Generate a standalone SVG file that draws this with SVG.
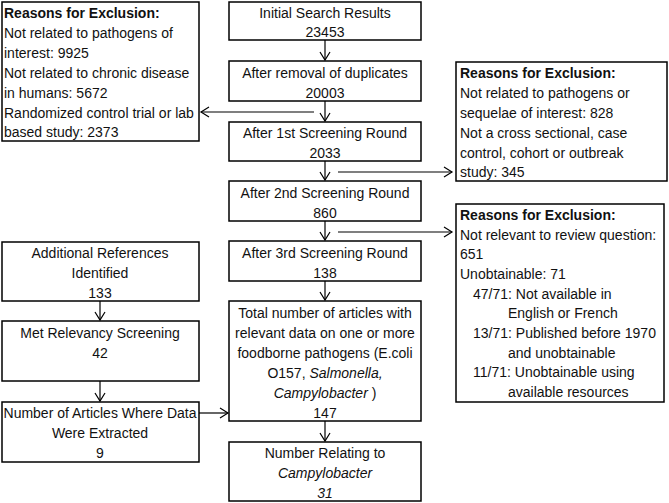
<svg xmlns="http://www.w3.org/2000/svg" width="669" height="503" viewBox="0 0 669 503">
<defs>
<marker id="ah" markerUnits="userSpaceOnUse" markerWidth="12" markerHeight="12" viewBox="-10 -6 12 12" refX="0" refY="0" orient="auto">
<path d="M-8,-5 L0,0 L-8,5" fill="none" stroke="#000" stroke-width="1.2"/>
</marker>
<style>
rect{fill:#fff;stroke:#000;stroke-width:1.5}
text{font-family:"Liberation Sans",Arial,sans-serif;font-size:14px;fill:#111}
.c{text-anchor:middle}
.b{font-weight:bold}
.i{font-style:italic}
#connectors line{stroke:#000;stroke-width:1.2;marker-end:url(#ah)}
</style>
</defs>
<rect x="0" y="0" width="669" height="503" style="fill:#fff;stroke:none"/>
<g id="excl1">
<rect x="2" y="2" width="197" height="139"/>
<text x="4" y="18" class="b">Reasons for Exclusion:</text>
<text x="4" y="38">Not related to pathogens of</text>
<text x="4" y="58">interest: 9925</text>
<text x="4" y="78">Not related to chronic disease</text>
<text x="4" y="98">in humans: 5672</text>
<text x="4" y="118">Randomized control trial or lab</text>
<text x="4" y="137">based study: 2373</text>
</g>
<g id="initial">
<rect x="229" y="2" width="192" height="38"/>
<text x="325" y="18" class="c">Initial Search Results</text>
<text x="325" y="37" class="c">23453</text>
</g>
<g id="dups">
<rect x="229" y="61" width="192" height="40"/>
<text x="325" y="78" class="c">After removal of duplicates</text>
<text x="325" y="98" class="c">20003</text>
</g>
<g id="round1">
<rect x="229" y="122" width="192" height="39"/>
<text x="325" y="138" class="c">After 1st Screening Round</text>
<text x="325" y="158" class="c">2033</text>
</g>
<g id="round2">
<rect x="229" y="181" width="192" height="40"/>
<text x="325" y="198" class="c">After 2nd Screening Round</text>
<text x="325" y="218" class="c">860</text>
</g>
<g id="round3">
<rect x="229" y="241" width="192" height="40"/>
<text x="325" y="258" class="c">After 3rd Screening Round</text>
<text x="325" y="278" class="c">138</text>
</g>
<g id="total">
<rect x="229" y="301" width="192" height="120"/>
<text x="325" y="318" class="c">Total number of articles with</text>
<text x="325" y="338" class="c">relevant data on one or more</text>
<text x="325" y="358" class="c">foodborne pathogens (E.coli</text>
<text x="325" y="378" class="c">O157, <tspan class="i">Salmonella,</tspan></text>
<text x="325" y="398" class="c"><tspan class="i">Campylobacter</tspan> )</text>
<text x="325" y="418" class="c">147</text>
</g>
<g id="campy">
<rect x="229" y="442" width="192" height="59"/>
<text x="325" y="458" class="c">Number Relating to</text>
<text x="325" y="478" class="c i">Campylobacter</text>
<text x="325" y="498" class="c i">31</text>
</g>
<g id="excl2">
<rect x="456" y="62" width="211" height="119"/>
<text x="460" y="78" class="b">Reasons for Exclusion:</text>
<text x="460" y="98">Not related to pathogens or</text>
<text x="460" y="118">sequelae of interest: 828</text>
<text x="460" y="138">Not a cross sectional, case</text>
<text x="460" y="158">control, cohort or outbreak</text>
<text x="460" y="177">study: 345</text>
</g>
<g id="excl3">
<rect x="456" y="204" width="208" height="198"/>
<text x="460" y="220" class="b">Reasons for Exclusion:</text>
<text x="460" y="240">Not relevant to review question:</text>
<text x="460" y="259">651</text>
<text x="460" y="279">Unobtainable: 71</text>
<text x="473" y="299">47/71: Not available in</text>
<text x="508" y="318">English or French</text>
<text x="473" y="338">13/71: Published before 1970</text>
<text x="508" y="358">and unobtainable</text>
<text x="473" y="377">11/71: Unobtainable using</text>
<text x="508" y="397">available resources</text>
</g>
<g id="additional">
<rect x="2" y="242" width="197" height="59"/>
<text x="100" y="258" class="c">Additional References</text>
<text x="100" y="278" class="c">Identified</text>
<text x="100" y="298" class="c">133</text>
</g>
<g id="relevancy">
<rect x="2" y="321" width="197" height="60"/>
<text x="100" y="338" class="c">Met Relevancy Screening</text>
<text x="100" y="358" class="c">42</text>
</g>
<g id="extracted">
<rect x="2" y="402" width="197" height="60"/>
<text x="100" y="418" class="c">Number of Articles Where Data</text>
<text x="100" y="438" class="c">Were Extracted</text>
<text x="100" y="458" class="c">9</text>
</g>
<g id="connectors">
<line x1="325" y1="40" x2="325" y2="60"/>
<line x1="325" y1="101" x2="325" y2="121"/>
<line x1="314" y1="112" x2="201" y2="112"/>
<line x1="325" y1="161" x2="325" y2="180"/>
<line x1="338" y1="172" x2="452" y2="172"/>
<line x1="325" y1="221" x2="325" y2="240"/>
<line x1="338" y1="232" x2="452" y2="232"/>
<line x1="325" y1="281" x2="325" y2="300"/>
<line x1="325" y1="421" x2="325" y2="441"/>
<line x1="100" y1="301" x2="100" y2="320"/>
<line x1="100" y1="381" x2="100" y2="401"/>
<line x1="199" y1="413" x2="228" y2="413"/>
</g>
</svg>
